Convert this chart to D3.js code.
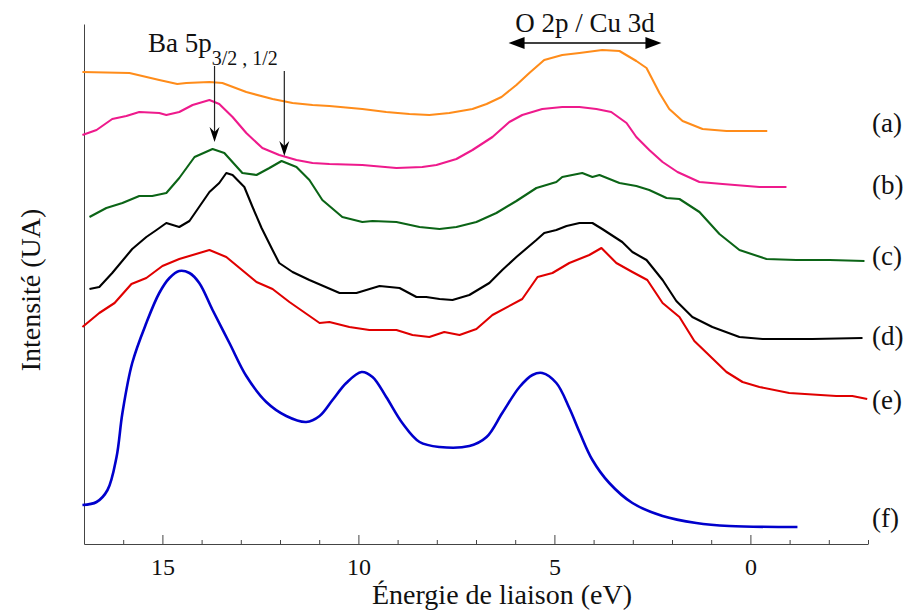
<!DOCTYPE html>
<html>
<head>
<meta charset="utf-8">
<script src="https://cdn.jsdelivr.net/npm/d3@7"></script>
<style>
  html, body { margin: 0; padding: 0; background: #fff; }
  svg { display: block; }
  svg text { font-family: "Liberation Serif", "Times New Roman", serif; }
</style>
</head>
<body>
<svg id="chart" width="905" height="614"></svg>
<script>
// ---------- DATA (energy in eV, intensity in arbitrary units) ----------
const seriesNames = ["(a)", "(b)", "(c)", "(d)", "(e)", "(f)"];

const energyA = [17.04,15.84,15.08,14.62,14.39,13.80,13.47,12.86,12.19,11.68,11.17,10.74,9.90,9.29,8.70,8.19,7.68,7.09,6.73,6.35,5.97,5.64,5.26,4.80,4.36,3.78,3.34,2.91,2.65,2.32,2.07,1.73,1.22,0.61,-0.43];
const intensA = [472,471,464,460,461,462,461,452,445,441,439,438,435,432,430,429,431,435,440,447,459,471,484,489,491,494,493,483,476,451,435,423,415,413,413];

const energyB = [17.04,16.68,16.28,15.92,15.59,15.08,14.90,14.57,14.23,13.80,13.55,13.21,12.86,12.45,12.02,11.58,11.17,10.74,9.90,9.03,8.37,8.01,7.50,7.09,6.58,6.15,5.82,5.31,4.80,4.36,3.93,3.55,3.16,2.91,2.58,2.24,1.86,1.30,0.71,-0.23,-0.92];
const intensB = [409,414,425,428,432,431,429,432,439,444,440,427,411,396,389,384,381,380,379,376,377,379,385,394,407,422,429,435,437,437,435,432,421,407,394,382,372,362,360,357,357];

const energyC = [16.86,16.43,16.02,15.59,15.26,14.90,14.57,14.18,13.72,13.42,12.96,12.60,12.27,11.96,11.58,11.25,10.92,10.41,9.90,9.64,9.03,8.44,7.93,7.50,6.99,6.48,5.97,5.46,4.95,4.80,4.29,4.03,3.85,3.34,2.91,2.58,2.14,1.81,1.30,0.79,0.28,-0.41,-1.17,-2.02,-2.91];
const intensC = [327,336,341,348,348,351,366,387,395,391,371,369,376,383,377,364,344,327,322,323,322,317,315,317,322,331,343,356,362,367,371,367,369,361,358,354,346,345,332,310,294,285,284,284,283];

const energyD = [16.86,16.61,16.28,15.77,15.41,15.15,14.90,14.57,14.31,13.80,13.55,13.37,13.21,12.91,12.70,12.47,12.19,12.02,11.68,11.25,10.48,10.05,9.46,8.95,8.52,8.27,7.93,7.60,7.17,6.66,6.33,5.97,5.46,5.26,4.95,4.69,4.36,4.03,3.78,3.27,3.01,2.65,2.24,1.89,1.48,0.97,0.28,-0.31,-1.58,-2.86];
const intensD = [255,257,271,295,307,314,321,317,323,352,361,371,369,357,337,316,294,281,272,264,251,251,258,256,247,247,245,244,249,261,274,287,304,311,314,318,321,321,315,302,292,284,264,243,227,217,207,205,205,206];

const energyE = [17.04,16.61,16.22,15.79,15.41,15.00,14.57,13.80,13.37,12.60,12.19,11.76,10.99,10.74,10.23,9.72,9.03,8.62,8.19,7.81,7.42,6.99,6.58,5.82,5.43,5.05,4.62,4.11,3.80,3.42,3.01,2.63,2.24,1.81,1.43,0.61,0.20,-0.23,-0.99,-2.19,-2.60,-2.98];
const intensE = [217,231,241,260,266,278,285,294,287,262,255,242,221,222,217,214,214,209,207,212,209,215,229,245,267,271,281,289,296,281,272,264,241,227,203,172,162,157,151,148,148,145];

const energyF = [17.04,16.68,16.40,16.17,16.02,15.77,15.41,15.08,14.82,14.57,14.31,14.06,13.72,13.29,12.86,12.35,11.84,11.33,10.99,10.66,10.31,9.92,9.64,9.29,8.88,8.44,7.93,7.17,6.73,6.33,5.89,5.56,5.31,4.95,4.62,4.36,4.03,3.60,3.01,2.24,1.38,0.54,-1.20];
const intensF = [39,42,54,87,131,181,221,251,266,273,271,261,234,201,168,142,128,122,128,144,161,172,167,147,121,102,97,98,107,131,157,169,171,161,136,112,84,61,41,28,21,18,17];

const energies = [energyA, energyB, energyC, energyD, energyE, energyF];
const intensities = [intensA, intensB, intensC, intensD, intensE, intensF];
const seriesColors = ["#ff8c1a", "#ee1a8c", "#0b6416", "#000000", "#e00000", "#0000cc"];
const labelLevels = [419, 357, 286, 206, 142, 24];

const majorTicks = [15, 10, 5, 0];
const minorTicks = [16, 14, 13, 12, 11, 9, 8, 7, 6, 4, 3, 2, 1, -1, -2, -3];
const xDomain = [17, -3];
const yDomain = [0, 520];

// annotations (data coordinates)
const baArrows = [{e: 13.67, from: 478, to: 402}, {e: 11.89, from: 473, to: 388}];
const oArrow = {e1: 6.17, e2: 2.27, level: 501};

// ---------- DRAW ----------
const FONT = "Liberation Serif";
const svg = d3.select("#chart");
const x = d3.scaleLinear().domain(xDomain).range([84, 868]);
const y = d3.scaleLinear().domain(yDomain).range([544, 24]);

// left vertical line
svg.append("g").attr("transform", "translate(84,0)")
  .call(d3.axisLeft(y).tickValues([]).tickSizeOuter(0))
  .call(g => g.select(".domain").attr("stroke", "#444").attr("stroke-width", 1));

// minor ticks
svg.append("g").attr("transform", "translate(0,544)")
  .call(d3.axisBottom(x).tickValues(minorTicks).tickSizeInner(-4).tickSizeOuter(0).tickFormat(""))
  .call(g => g.select(".domain").attr("stroke", "#444"))
  .call(g => g.selectAll(".tick line").attr("stroke", "#444"));

// major ticks
svg.append("g").attr("transform", "translate(0,544)")
  .call(d3.axisBottom(x).tickValues(majorTicks).tickSizeInner(-9).tickSizeOuter(0).tickPadding(14).tickFormat(d3.format("d")))
  .attr("font-family", FONT)
  .call(g => g.select(".domain").remove())
  .call(g => g.selectAll(".tick line").attr("stroke", "#444"))
  .call(g => g.selectAll(".tick text").attr("font-family", FONT).attr("font-size", 24).attr("fill", "#111"));

// lines
energies.forEach((es, i) => {
  const pts = es.map((e, j) => [e, intensities[i][j]]);
  const line = d3.line()
    .x(d => x(d[0])).y(d => y(d[1]))
    .curve(i === 5 ? d3.curveCatmullRom.alpha(0.5) : d3.curveLinear);
  svg.append("path")
    .datum(pts)
    .attr("d", line)
    .attr("fill", "none")
    .attr("stroke", seriesColors[i])
    .attr("stroke-width", i === 5 ? 2.6 : 2.1)
    .attr("stroke-linejoin", "round");
});

// series labels
seriesNames.forEach((n, i) => {
  svg.append("text")
    .attr("x", 872).attr("y", y(labelLevels[i]))
    .attr("dy", "0.26em")
    .attr("font-family", FONT)
    .attr("font-size", 27).attr("fill", "#111")
    .text(n);
});

// axis titles
svg.append("text")
  .attr("x", 502).attr("y", 604)
  .attr("text-anchor", "middle")
  .attr("font-family", FONT)
  .attr("font-size", 28).attr("fill", "#111")
  .text("Énergie de liaison (eV)");

svg.append("text")
  .attr("transform", "translate(40,290) rotate(-90)")
  .attr("text-anchor", "middle")
  .attr("font-family", FONT)
  .attr("font-size", 28).attr("fill", "#111")
  .text("Intensité (UA)");

// Ba 5p annotation
const baText = svg.append("text")
  .attr("x", 148).attr("y", 52)
  .attr("font-family", FONT)
  .attr("font-size", 27).attr("fill", "#111");
baText.append("tspan").text("Ba 5p");
baText.append("tspan").attr("dy", 13).attr("font-size", 20).text("3/2 , 1/2");

baArrows.forEach(a => {
  const ax = x(a.e), y0 = y(a.from), y1 = y(a.to);
  svg.append("line")
    .attr("x1", ax).attr("x2", ax).attr("y1", y0).attr("y2", y1 - 6)
    .attr("stroke", "#222").attr("stroke-width", 1.2);
  svg.append("path")
    .attr("d", `M${ax},${y1} L${ax - 5},${y1 - 15} L${ax},${y1 - 10} L${ax + 5},${y1 - 15} Z`)
    .attr("fill", "#000");
});

// O 2p / Cu 3d annotation
const ox1 = x(oArrow.e1), ox2 = x(oArrow.e2), oy = y(oArrow.level);
svg.append("text")
  .attr("x", (ox1 + ox2) / 2).attr("y", 32)
  .attr("text-anchor", "middle")
  .attr("font-family", FONT)
  .attr("font-size", 27).attr("fill", "#111")
  .text("O 2p / Cu 3d");
svg.append("line")
  .attr("x1", ox1 + 10).attr("x2", ox2 - 10).attr("y1", oy).attr("y2", oy)
  .attr("stroke", "#000").attr("stroke-width", 1.5);
svg.append("path")
  .attr("d", `M${ox1},${oy} L${ox1 + 16},${oy - 6} L${ox1 + 16},${oy + 6} Z`)
  .attr("fill", "#000");
svg.append("path")
  .attr("d", `M${ox2},${oy} L${ox2 - 16},${oy - 6} L${ox2 - 16},${oy + 6} Z`)
  .attr("fill", "#000");
</script>
</body>
</html>
